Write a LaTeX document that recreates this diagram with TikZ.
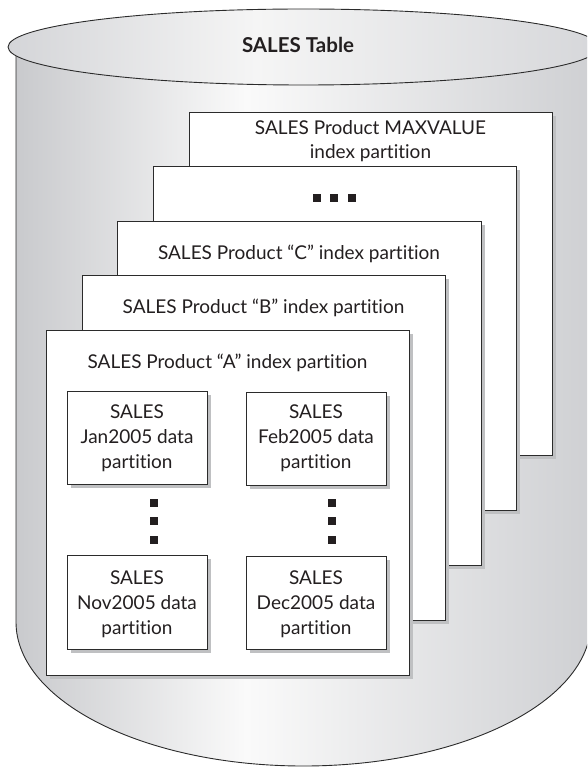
\documentclass[tikz,border=0pt]{standalone}
\usepackage{fontspec}
\setmainfont{Lato}[Ligatures={NoCommon,NoRare,NoContextual}]
\definecolor{cylL}{HTML}{C9CACD}
\definecolor{cylM}{HTML}{FAFAFA}
\definecolor{cylR}{HTML}{CFD0D3}
\definecolor{topL}{HTML}{D4D5D8}
\definecolor{topM}{HTML}{F5F5F5}
\definecolor{topR}{HTML}{D6D7DA}
\definecolor{linec}{HTML}{2B2B2B}
\definecolor{textc}{HTML}{231F20}
\definecolor{shadowc}{HTML}{BFC0C2}
\pgfdeclarehorizontalshading{bodyshade}{100bp}{color(0bp)=(cylL); color(25bp)=(cylL); color(45bp)=(cylM); color(75bp)=(cylR); color(100bp)=(cylR)}
\pgfdeclarehorizontalshading{topshade}{100bp}{color(0bp)=(topL); color(25bp)=(topL); color(46bp)=(topM); color(75bp)=(topR); color(100bp)=(topR)}
\tikzset{
  boxframe/.style={draw=linec, line width=0.9pt, fill=white},
  boxshadow/.style={fill=shadowc, draw=none},
  cylline/.style={draw=linec, line width=0.9pt},
  txt/.style={font=\fontsize{19}{25}\selectfont, text=textc, inner sep=0pt, align=center},
  titletxt/.style={font=\bfseries\fontsize{20.5}{24}\selectfont, text=textc, inner sep=0pt},
  sq/.style={fill=textc, draw=none, minimum size=8pt, inner sep=0pt, shape=rectangle},
}
\newcommand\partbox[4]{%
  \fill[boxshadow] (#1+4,#2+4) rectangle (#3+4,#4+4);
  \draw[boxframe] (#1,#2) rectangle (#3,#4);}
\begin{document}
\begin{tikzpicture}[x=1pt,y=-1pt]
\useasboundingbox (0,0) rectangle (587,767);
\clip (0,0) rectangle (587,767);
% cylinder body
\shade[shading=bodyshade] (16,40) -- (16,622) arc[start angle=180,end angle=0,x radius=287.5,y radius=144] -- (591,40) -- cycle;
\draw[cylline] (16,47) -- (16,622) arc[start angle=180,end angle=0,x radius=287.5,y radius=144] -- (591,47);
% cylinder top
\shadedraw[shading=topshade, cylline] (303.5,47) ellipse [x radius=295.5, y radius=38];
\node[titletxt] (title) at (298,45) {SALES Table};
% MAXVALUE partition
\partbox{189}{112}{552}{455}
\node[txt, anchor=base] (maxa) at (370.5,135) {SALES Product MAXVALUE};
\node[txt, anchor=base] (maxb) at (370.5,159) {index partition};
% dots partition
\partbox{153}{166}{516}{510}
\node[sq] (h1) at (316.5,198) {};
\node[sq] (h2) at (334,198) {};
\node[sq] (h3) at (351.5,198) {};
% C
\partbox{117}{221}{481}{565}
\node[txt, anchor=base] (ctxt) at (299,259) {SALES Product “C” index partition};
% B
\partbox{82}{275}{445}{620}
\node[txt, anchor=base] (btxt) at (263.5,313) {SALES Product “B” index partition};
% A
\partbox{46}{330}{409}{675}
\node[txt, anchor=base] (atxt) at (227.5,368) {SALES Product “A” index partition};
% data partitions
\partbox{67}{391}{207}{484}
\node[txt] (jan) at (137,438) {SALES\\Jan2005 data\\partition};
\partbox{246}{392}{386}{485}
\node[txt] (feb) at (316,438) {SALES\\Feb2005 data\\partition};
\partbox{67}{555}{207}{649}
\node[txt] (nov) at (137,604) {SALES\\Nov2005 data\\partition};
\partbox{246}{556}{386}{649}
\node[txt] (dec) at (316,604) {SALES\\Dec2005 data\\partition};
% vertical dots
\node[sq] (l1) at (154,502.5) {};
\node[sq] (l2) at (154,521) {};
\node[sq] (l3) at (154,540) {};
\node[sq] (r1) at (332,502.5) {};
\node[sq] (r2) at (332,521) {};
\node[sq] (r3) at (332,540) {};
\end{tikzpicture}
\end{document}
